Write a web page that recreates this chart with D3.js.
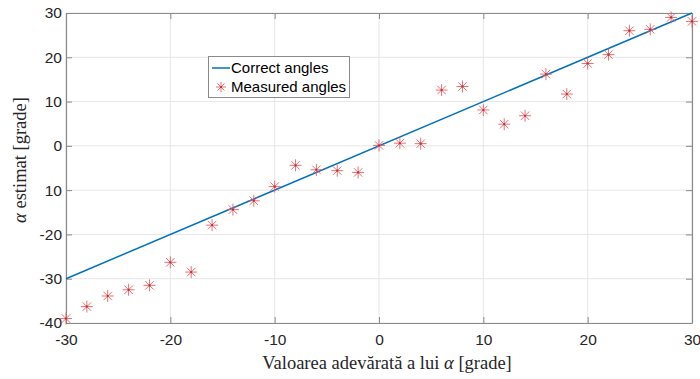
<!DOCTYPE html>
<html><head><meta charset="utf-8">
<script src="https://cdn.jsdelivr.net/npm/d3@7"></script>
<style>body{margin:0;background:#fff}svg{display:block}</style>
</head><body>
<script>
const trueAngles = [-30,-28,-26,-24,-22,-20,-18,-16,-14,-12,-10,-8,-6,-4,-2,0,2,4,6,8,10,12,14,16,18,20,22,24,26,28,30];
const measuredAngles = [-39.0,-36.3,-33.9,-32.5,-31.5,-26.3,-28.5,-17.9,-14.4,-12.4,-9.2,-4.4,-5.4,-5.6,-6.0,0.1,0.6,0.5,12.6,13.4,8.1,4.9,6.8,16.2,11.7,18.6,20.6,26.0,26.3,29.0,28.1];
const correctLine = [-30, 30];
const xTicks = [-30,-20,-10,0,10,20,30];
const xTickLabels = ["-30","-20","-10","0","10","20","30"];
const yTicks = [-40,-30,-20,-10,0,10,20,30];
const yTickLabels = ["-40","-30","-20","10","0","10","20","30"];

const W=700,H=379;
const m={l:66,r:8,t:13,b:56};
const svg=d3.select("body").append("svg").attr("width",W).attr("height",H);
const x=d3.scaleLinear().domain([-30,30]).range([m.l,W-m.r]);
const y=d3.scaleLinear().domain([-40,30]).range([H-m.b,m.t]);
const x0=x.range()[0],x1=x.range()[1],y0=y.range()[0],y1=y.range()[1];

// grid
svg.append("g").selectAll("line").data(xTicks).join("line")
 .attr("x1",d=>x(d)).attr("x2",d=>x(d)).attr("y1",y1).attr("y2",y0)
 .attr("stroke","#e6e6e6").attr("stroke-width",1);
svg.append("g").selectAll("line").data(yTicks).join("line")
 .attr("y1",d=>y(d)).attr("y2",d=>y(d)).attr("x1",x0).attr("x2",x1)
 .attr("stroke","#e6e6e6").attr("stroke-width",1);

const axCol="#8a8a8a";
const fmtX=(d)=>xTickLabels[xTicks.indexOf(d)];
const fmtY=(d)=>yTickLabels[yTicks.indexOf(d)];
const gb=svg.append("g").attr("transform",`translate(0,${y0})`)
 .call(d3.axisBottom(x).tickValues(xTicks).tickFormat(fmtX).tickSizeInner(-6).tickSizeOuter(0).tickPadding(11));
const gt=svg.append("g").attr("transform",`translate(0,${y1})`)
 .call(d3.axisTop(x).tickValues(xTicks).tickFormat("").tickSizeInner(-6).tickSizeOuter(0));
const gl=svg.append("g").attr("transform",`translate(${x0},0)`)
 .call(d3.axisLeft(y).tickValues(yTicks).tickFormat(fmtY).tickSizeInner(-6).tickSizeOuter(0).tickPadding(4));
const gr=svg.append("g").attr("transform",`translate(${x1},0)`)
 .call(d3.axisRight(y).tickValues(yTicks).tickFormat("").tickSizeInner(-6).tickSizeOuter(0));
[gb,gt,gl,gr].forEach(g=>{
 g.selectAll(".domain").attr("stroke",axCol).attr("stroke-width",1.2);
 g.selectAll(".tick line").attr("stroke",axCol);
 g.selectAll("text").attr("fill","#262626").attr("font-family","'Liberation Sans',Arial,sans-serif").attr("font-size",15.5);
});

// line
svg.append("path").datum(correctLine)
 .attr("d",d3.line().x(d=>x(d)).y(d=>y(d)))
 .attr("fill","none").attr("stroke","#0072BD").attr("stroke-width",1.5);

// markers
const red="#e25a5e";
function star(g,cx,cy,r){
 const a=r*0.7071;
 g.append("path").attr("d",`M${cx-r},${cy}H${cx+r}M${cx},${cy-r}V${cy+r}M${cx-a},${cy-a}L${cx+a},${cy+a}M${cx-a},${cy+a}L${cx+a},${cy-a}`)
  .attr("stroke",red).attr("stroke-width",1).attr("fill","none").attr("opacity",0.85);
 g.append("circle").attr("cx",cx).attr("cy",cy).attr("r",1.1).attr("fill","#c8262e");
}
const mg=svg.append("g");
trueAngles.forEach((t,i)=>star(mg,x(t),y(measuredAngles[i]),6));

// legend
const lg=svg.append("g");
lg.append("rect").attr("x",208.5).attr("y",56.5).attr("width",141).attr("height",41)
 .attr("fill","#fff").attr("stroke","#8a8a8a").attr("stroke-width",1);
lg.append("line").attr("x1",212).attr("x2",230).attr("y1",68).attr("y2",68).attr("stroke","#0072BD").attr("stroke-width",1.5);
star(lg,221,87,5);
lg.selectAll("text.l").data(["Correct angles","Measured angles"]).join("text")
 .attr("x",231).attr("y",(d,i)=>73+i*19).text(d=>d)
 .attr("font-family","'Liberation Sans',Arial,sans-serif").attr("font-size",15).attr("fill","#000");

// axis labels
const xl=svg.append("text").attr("x",(x0+x1)/2+8).attr("y",369).attr("text-anchor","middle")
 .attr("font-family","'Liberation Serif','Times New Roman',serif").attr("font-size",18.5).attr("fill","#262626");
xl.append("tspan").text("Valoarea adevărată a lui ");
xl.append("tspan").attr("font-style","italic").text("α");
xl.append("tspan").text(" [grade]");
const yl=svg.append("text").attr("transform",`translate(26,${(y0+y1)/2-8}) rotate(-90)`).attr("text-anchor","middle")
 .attr("font-family","'Liberation Serif','Times New Roman',serif").attr("font-size",18.5).attr("fill","#262626");
yl.append("tspan").attr("font-style","italic").text("α");
yl.append("tspan").text(" estimat [grade]");
</script>
</body></html>
